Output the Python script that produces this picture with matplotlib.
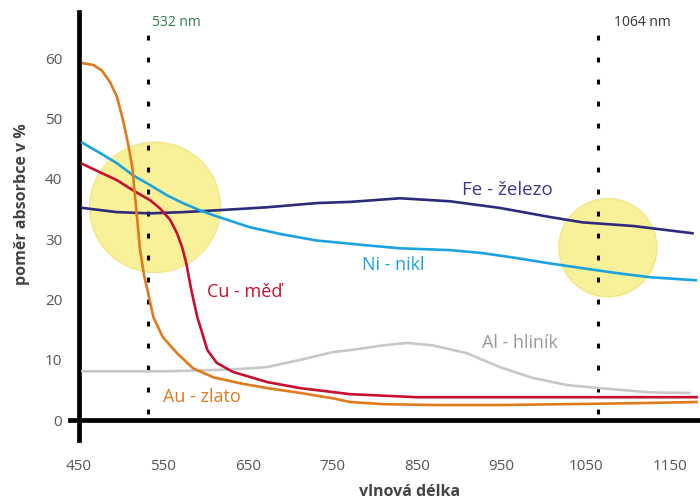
import matplotlib
matplotlib.use("Agg")
import matplotlib.pyplot as plt
from matplotlib.patches import Ellipse

plt.rcParams['font.family'] = ['Open Sans', 'DejaVu Sans']

# values (wavelength nm, absorption %)
au_x = [455, 467, 477, 487, 495, 502, 508, 513, 516, 519, 522, 527, 531, 538, 549,
        566, 585, 609, 641, 673, 712, 751, 771, 810, 869, 948, 1028, 1106, 1181]
au_y = [59.2, 58.9, 58.0, 56.0, 53.6, 49.8, 45.9, 42.0, 37.6, 33.2, 28.5, 24.0, 21.6,
        17.1, 13.8, 11.1, 8.6, 7.1, 6.1, 5.3, 4.5, 3.6, 3.0, 2.65, 2.5, 2.5, 2.65, 2.8, 3.0]

cu_x = [454, 475, 495, 514, 534, 546, 558, 566, 572, 577, 583, 590, 602, 613, 632,
        673, 712, 771, 850, 968, 1087, 1181]
cu_y = [42.5, 41.1, 39.8, 38.1, 36.5, 35.1, 33.2, 31.0, 28.7, 26.0, 21.5, 17.1, 11.6,
        9.5, 8.0, 6.3, 5.3, 4.3, 3.8, 3.8, 3.8, 3.8]

ni_x = [454, 475, 495, 514, 534, 554, 573, 593, 613, 652, 691, 731, 790, 830,
        889, 928, 967, 1007, 1046, 1086, 1126, 1180]
ni_y = [46.0, 44.3, 42.6, 40.6, 39.0, 37.3, 36.0, 34.8, 33.8, 32.0, 30.8, 29.8,
        29.0, 28.5, 28.2, 27.7, 26.9, 26.0, 25.2, 24.4, 23.7, 23.2]

fe_x = [454, 495, 534, 573, 613, 672, 731, 771, 830, 889, 948, 1007, 1046, 1106, 1176]
fe_y = [35.2, 34.5, 34.3, 34.5, 34.8, 35.3, 36.0, 36.2, 36.8, 36.3, 35.2, 33.7, 32.8,
        32.2, 31.0]

al_x = [454, 554, 632, 673, 712, 751, 771, 810, 838, 869, 909, 948, 987, 1028, 1067,
        1126, 1172]
al_y = [8.1, 8.1, 8.4, 8.8, 10.0, 11.3, 11.6, 12.4, 12.8, 12.4, 11.1, 8.8, 7.0, 5.8,
        5.3, 4.6, 4.5]

lasers = [532, 1064]
laser_labels = ['532 nm', '1064 nm']
laser_colors = ['#2e7d4f', '#333333']

# highlighted crossings: centre (nm, %), size (nm, %)
spots = [(540, 35.3, 155, 21.6), (1076, 28.6, 116, 16.3)]

xticks = [450, 550, 650, 750, 850, 950, 1050, 1150]
yticks = [0, 10, 20, 30, 40, 50, 60]

fig = plt.figure(figsize=(7, 5.01), dpi=100)
ax = fig.add_axes([60 / 700, 61 / 501, 640 / 700, 428 / 501])
ax.set_xlim(427.5, 1185)
ax.set_ylim(-3.3, 67.7)

for cx, cy, w, h in spots:
    ax.add_patch(Ellipse((cx, cy), w, h, facecolor='#f9f08e', edgecolor='#efe685',
                         lw=1, alpha=0.9, zorder=1))

for x in lasers:
    ax.axvline(x, ymin=0.06, ymax=0.97, color='black', lw=2.2,
               linestyle=(0, (1.6, 5.6)), zorder=2)
ax.text(536, 66, laser_labels[0], color=laser_colors[0], fontsize=10, va='center')
ax.text(1083, 66, laser_labels[1], color=laser_colors[1], fontsize=10, va='center')

ax.plot(al_x, al_y, color='#c8c8c8', lw=1.9, zorder=3)
ax.plot(fe_x, fe_y, color='#2d2a7c', lw=1.9, zorder=3)
ax.plot(ni_x, ni_y, color='#1ba3df', lw=1.9, zorder=3)
ax.plot(cu_x, cu_y, color='#c8102e', lw=1.9, zorder=4)
ax.plot(au_x, au_y, color='#e07b1c', lw=1.9, zorder=4)

ax.text(903, 38.1, 'Fe - železo', color='#3b3a8f', fontsize=13.5, va='center')
ax.text(785, 25.7, 'Ni - nikl', color='#1ba3df', fontsize=13, va='center')
ax.text(601, 21.2, 'Cu - měď', color='#c8102e', fontsize=13, va='center')
ax.text(549, 3.8, 'Au - zlato', color='#e07b1c', fontsize=13, va='center')
ax.text(927, 12.8, 'Al - hliník', color='#9a9a9a', fontsize=13, va='center')

for s in ['top', 'right']:
    ax.spines[s].set_visible(False)
ax.spines['left'].set_position(('data', 450))
ax.spines['left'].set_bounds(-3.3, 67.7)
ax.spines['bottom'].set_position(('data', 0))
ax.spines['bottom'].set_bounds(439, 1185)
ax.spines['left'].set_linewidth(3.4)
ax.spines['bottom'].set_linewidth(3.4)

ax.set_xticks(xticks)
ax.set_yticks(yticks)
ax.tick_params(axis='both', length=0, labelsize=11, labelcolor='#555555')
ax.tick_params(axis='x', pad=28)
ax.tick_params(axis='y', pad=12)

fig.text(410 / 700, 1 - 492 / 501, 'vlnová délka', fontsize=11.5, fontweight='bold',
         color='#444444', ha='center', va='center')
fig.text(22 / 700, 1 - 204 / 501, 'poměr absorbce v %', fontsize=11.5, fontweight='bold',
         color='#444444', ha='center', va='center', rotation=90)

fig.savefig('out.png', dpi=100)
